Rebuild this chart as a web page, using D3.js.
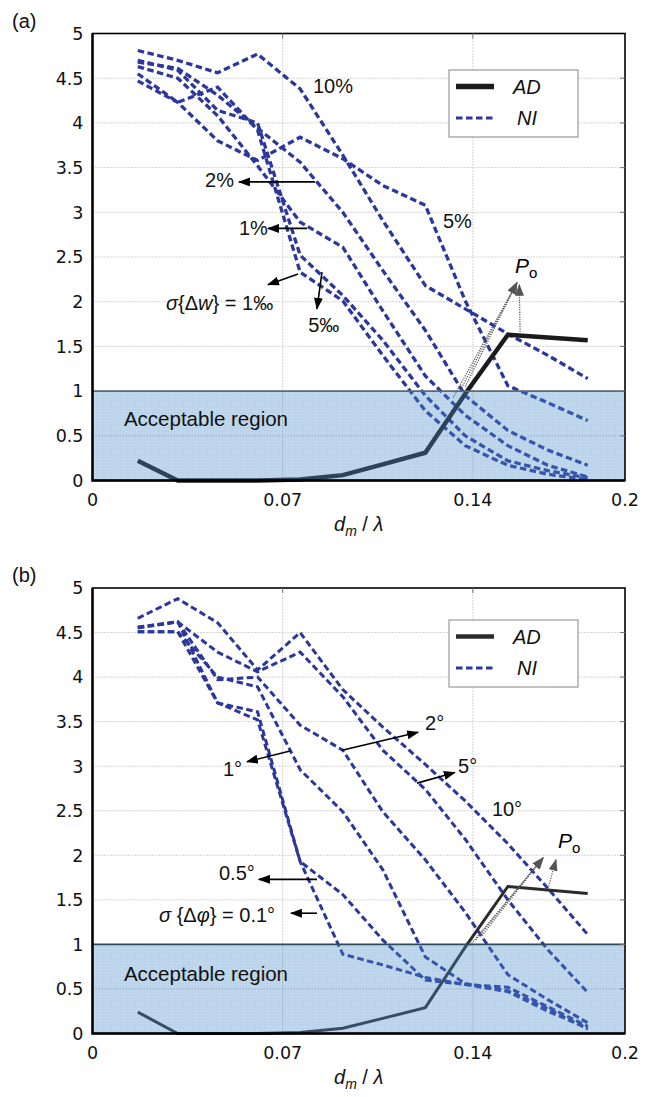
<!DOCTYPE html>
<html><head><meta charset="utf-8">
<script src="https://cdn.jsdelivr.net/npm/d3@7"></script>
<style>body{margin:0;background:#fff}svg{display:block}</style>
</head><body>
<svg id="c" width="650" height="1097"></svg>
<script>
// ---------- data ----------
const xGrid = [0.017,0.032,0.047,0.062,0.078,0.094,0.109,0.125,0.140,0.156,0.171,0.186];
const yTicks = [0,0.5,1,1.5,2,2.5,3,3.5,4,4.5,5];
const yTickLabels = ["0","0.5","1","1.5","2","2.5","3","3.5","4","4.5","5"];
const xTicks = [0, 1/14, 2/14, 0.2];
const xTickLabels = ["0","0.07","0.14","0.2"];

// panel (a): sigma{Δw}
const adA   = [0.22,0,0,0,0.01,0.06,0.18,0.31,0.97,1.63,1.60,1.57];
const niA10 = [4.81,4.70,4.56,4.77,4.38,3.64,2.91,2.18,1.92,1.64,1.40,1.14];
const niA5  = [4.47,4.23,3.80,3.58,3.84,3.60,3.30,3.08,2.01,1.06,0.87,0.67];
const niA2  = [4.68,4.61,4.31,3.94,3.56,3.00,2.35,1.68,0.95,0.56,0.34,0.17];
const niA1  = [4.63,4.50,4.08,3.52,2.89,2.61,1.90,1.17,0.73,0.39,0.17,0.04];
const niA05 = [4.70,4.59,4.14,4.00,2.52,2.07,1.57,0.95,0.50,0.22,0.11,0.03];
const niA01 = [4.55,4.23,4.40,3.92,2.33,2.01,1.40,0.78,0.39,0.17,0.07,0.01];

// panel (b): sigma{Δφ}
const adB    = [0.24,0,0,0,0.01,0.06,0.17,0.29,0.97,1.65,1.61,1.57];
const niB10  = [4.66,4.88,4.61,4.08,4.50,3.86,3.44,3.02,2.61,2.13,1.63,1.11];
const niB5   = [4.56,4.62,4.28,4.06,4.28,3.78,3.18,2.74,2.18,1.50,0.94,0.46];
const niB2   = [4.55,4.62,3.97,4.00,3.46,3.18,2.49,1.95,1.36,0.66,0.38,0.12];
const niB1   = [4.51,4.51,4.00,3.89,2.96,2.49,1.84,0.86,0.56,0.48,0.28,0.05];
const niB05  = [4.56,4.62,3.71,3.61,1.93,1.56,1.05,0.60,0.55,0.47,0.25,0.06];
const niB01  = [4.51,4.51,3.71,3.52,1.93,0.89,0.77,0.63,0.55,0.52,0.30,0.08];

const acceptLimit = 1;

// annotation labels (data coords)
const labelsA = [
  {t:"10%", x:0.0828, y:4.33},
  {t:"5%",  x:0.1316, y:2.82},
  {t:"2%",  x:0.0423, y:3.28},
  {t:"1%",  x:0.055,  y:2.75},
  {t:"5‰",  x:0.081,  y:1.66}
];
const arrowsA = [[0.0836,3.34,0.0550,3.34],[0.0806,2.82,0.0659,2.82],[0.0772,2.31,0.0659,2.19],[0.0862,2.33,0.0843,1.92]];
const labelsB = [
  {t:"1°",   x:0.049,  y:2.89},
  {t:"2°",   x:0.1249, y:3.41},
  {t:"5°",   x:0.1373, y:2.92},
  {t:"10°",  x:0.150,  y:2.44},
  {t:"0.5°", x:0.0475, y:1.72}
];
const arrowsB = [[0.0742,3.17,0.058,3.05],[0.0937,3.18,0.1223,3.38],[0.1219,2.81,0.1361,2.93],[0.0843,1.73,0.0625,1.73],[0.0843,1.35,0.0745,1.35]];

// ---------- drawing ----------
const svg = d3.select("#c");
const defs = svg.append("defs");
function marker(id, color){
  defs.append("marker").attr("id",id).attr("viewBox","0 0 12 9")
    .attr("refX",11).attr("refY",4.5).attr("markerWidth",12).attr("markerHeight",9)
    .attr("markerUnits","userSpaceOnUse").attr("orient","auto")
    .append("path").attr("d","M0,0 L12,4.5 L0,9 Z").attr("fill",color);
}
marker("ah","#000");
marker("ahg","#555");
const pat = defs.append("pattern").attr("id","tex").attr("patternUnits","userSpaceOnUse")
  .attr("width",3).attr("height",3);
pat.append("rect").attr("width",3).attr("height",3).attr("fill","#4a8ccb");
pat.append("rect").attr("width",1).attr("height",3).attr("fill","#3d7fbf");
pat.append("rect").attr("width",3).attr("height",0.6).attr("fill","#5a98d2");

const FONT = "'Liberation Sans', Arial, sans-serif";
const TFONT = "'DejaVu Sans', sans-serif";
const NI_COLOR = "#2b379c";

function panel(p){
  const x = d3.scaleLinear().domain([0,0.2]).range([92.5,625]);
  const y = d3.scaleLinear().domain([0,5]).range([p.bottom,p.top]);
  const g = svg.append("g");

  // grid
  g.selectAll(null).data(yTicks.slice(1,-1)).join("line")
    .attr("x1",x(0)).attr("x2",x(0.2)).attr("y1",d=>y(d)).attr("y2",d=>y(d))
    .attr("stroke","#a8a8a8").attr("stroke-width",1).attr("stroke-dasharray","1,2");
  g.selectAll(null).data(xTicks.slice(1,-1)).join("line")
    .attr("y1",y(0)).attr("y2",y(5)).attr("x1",d=>x(d)).attr("x2",d=>x(d))
    .attr("stroke","#a8a8a8").attr("stroke-width",1).attr("stroke-dasharray","1,2");

  const line = d3.line().x((d,i)=>x(xGrid[i])).y(d=>y(d));
  p.ni.forEach(s=>{
    g.append("path").attr("d",line(s)).attr("fill","none")
      .attr("stroke",NI_COLOR).attr("stroke-width",p.niW).attr("stroke-dasharray","6.5,3.5");
  });
  g.append("path").attr("d",line(p.ad)).attr("fill","none")
    .attr("stroke",p.adColor).attr("stroke-width",p.adW).attr("stroke-linejoin","miter");

  // P_o dotted arrows
  p.po.fan.forEach(o=>{
    g.append("line").attr("x1",x(o[0])).attr("y1",y(o[1])).attr("x2",x(p.po.h1[0])).attr("y2",y(p.po.h1[1]))
      .attr("stroke","#555").attr("stroke-width",1.2).attr("stroke-dasharray","1.2,1.2")
      .attr("marker-end","url(#ahg)");
  });
  g.append("line").attr("x1",x(p.po.o2[0])).attr("y1",y(p.po.o2[1])).attr("x2",x(p.po.h2[0])).attr("y2",y(p.po.h2[1]))
    .attr("stroke","#555").attr("stroke-width",1.2).attr("stroke-dasharray","1.2,1.2")
    .attr("marker-end","url(#ahg)");
  const pt = g.append("text").attr("x",x(p.po.t[0])).attr("y",y(p.po.t[1]))
    .attr("font-family",FONT).attr("font-size",21);
  pt.append("tspan").attr("font-style","italic").text("P");
  pt.append("tspan").attr("font-size",15).attr("dy",5).text("o");

  // acceptable region overlay
  g.append("rect").attr("x",x(0)).attr("y",y(acceptLimit)).attr("width",x(0.2)-x(0))
    .attr("height",y(0)-y(acceptLimit)).attr("fill","url(#tex)").attr("opacity",0.36);
  g.append("line").attr("x1",x(0)).attr("x2",x(0.2)).attr("y1",y(acceptLimit)).attr("y2",y(acceptLimit))
    .attr("stroke",p.regionLine).attr("stroke-width",1.6);
  g.append("text").attr("x",x(0.0118)).attr("y",y(p.regionTextY))
    .attr("font-family",FONT).attr("font-size",20.5).attr("fill","#111").text("Acceptable region");

  // frame
  g.append("rect").attr("x",x(0)).attr("y",y(5)).attr("width",x(0.2)-x(0)).attr("height",y(0)-y(5))
    .attr("fill","none").attr("stroke","#000").attr("stroke-width",1.6);
  g.append("path").attr("d",`M${x(0)},${y(5)}V${y(0)}H${x(0.2)}`).attr("fill","none")
    .attr("stroke","#000").attr("stroke-width",2.4);
  // inward ticks right and top
  g.selectAll(null).data(yTicks.slice(1,-1)).join("line")
    .attr("x1",x(0.2)-5).attr("x2",x(0.2)).attr("y1",d=>y(d)).attr("y2",d=>y(d))
    .attr("stroke","#777").attr("stroke-width",1);
  g.selectAll(null).data(xTicks.slice(1,-1)).join("line")
    .attr("y1",y(5)).attr("y2",y(5)+5).attr("x1",d=>x(d)).attr("x2",d=>x(d))
    .attr("stroke","#777").attr("stroke-width",1);

  // tick labels
  g.selectAll(null).data(yTicks).join("text")
    .attr("x",83.5).attr("y",d=>y(d)).attr("dy","0.36em").attr("text-anchor","end")
    .attr("font-family",TFONT).attr("font-size",17.5).attr("fill","#111")
    .text((d,i)=>yTickLabels[i]);
  g.selectAll(null).data(xTicks).join("text")
    .attr("x",d=>x(d)).attr("y",y(0)+25).attr("text-anchor","middle")
    .attr("font-family",TFONT).attr("font-size",17.5).attr("fill","#111")
    .text((d,i)=>xTickLabels[i]);

  // axis title
  const xt = g.append("text").attr("x",334).attr("y",y(0)+50)
    .attr("font-family",FONT).attr("font-size",20).attr("fill","#111");
  xt.append("tspan").attr("font-style","italic").text("d");
  xt.append("tspan").attr("font-style","italic").attr("font-size",14).attr("dy",5).text("m");
  xt.append("tspan").attr("dy",-5).text(" / ");
  xt.append("tspan").attr("font-style","italic").text("λ");

  // panel tag
  g.append("text").attr("x",12).attr("y",y(5)-6).attr("font-family",FONT).attr("font-size",20)
    .attr("fill","#111").text(p.tag);

  // annotations
  g.selectAll(null).data(p.labels).join("text")
    .attr("x",d=>x(d.x)).attr("y",d=>y(d.y)).attr("font-family",FONT).attr("font-size",20)
    .attr("fill","#111").text(d=>d.t);
  g.selectAll(null).data(p.arrows).join("line")
    .attr("x1",d=>x(d[0])).attr("y1",d=>y(d[1])).attr("x2",d=>x(d[2])).attr("y2",d=>y(d[3]))
    .attr("stroke","#000").attr("stroke-width",1.6).attr("marker-end","url(#ah)");
  const st = g.append("text").attr("x",x(p.sigma.x)).attr("y",y(p.sigma.y))
    .attr("font-family",FONT).attr("font-size",20).attr("fill","#111");
  p.sigma.parts.forEach(pp=>{
    const ts = st.append("tspan").text(pp[0]);
    if(pp[1]) ts.attr("font-style","italic");
  });

  // legend
  const lx = 449, ly = p.legendTop;
  g.append("rect").attr("x",lx).attr("y",ly).attr("width",129).attr("height",67)
    .attr("fill","#fff").attr("stroke","#999").attr("stroke-width",1.2);
  g.append("line").attr("x1",lx+7).attr("x2",lx+45).attr("y1",ly+16.5).attr("y2",ly+16.5)
    .attr("stroke",p.adColor).attr("stroke-width",p.legAdW);
  g.append("line").attr("x1",lx+7).attr("x2",lx+45).attr("y1",ly+48).attr("y2",ly+48)
    .attr("stroke",NI_COLOR).attr("stroke-width",3.2).attr("stroke-dasharray","6.5,3.5");
  g.append("text").attr("x",lx+64).attr("y",ly+23.5).attr("font-family",FONT).attr("font-size",20)
    .attr("font-style","italic").attr("fill","#111").text("AD");
  g.append("text").attr("x",lx+68).attr("y",ly+55).attr("font-family",FONT).attr("font-size",20)
    .attr("font-style","italic").attr("fill","#111").text("NI");
}

panel({
  tag:"(a)", top:33.5, bottom:480.5, legendTop:70,
  ni:[niA10,niA5,niA2,niA1,niA05,niA01], ad:adA,
  adColor:"#1b1b1b", adW:4.5, legAdW:5.5, niW:3.3,
  regionLine:"#5d6a72", regionTextY:0.61,
  labels:labelsA, arrows:arrowsA,
  sigma:{x:0.0276,y:1.91,parts:[["σ",1],["{Δ",0],["w",1],["} = 1‰",0]]},
  po:{fan:[[0.1355,0.93],[0.1378,0.99],[0.1400,1.05]], h1:[0.1594,2.21], o2:[0.1606,1.66], h2:[0.1603,2.19], t:[0.1587,2.32]}
});
panel({
  tag:"(b)", top:588, bottom:1033.5, legendTop:620,
  ni:[niB10,niB5,niB2,niB1,niB05,niB01], ad:adB,
  adColor:"#2b2b2b", adW:3, legAdW:4.5, niW:3,
  regionLine:"#2e4d5c", regionTextY:0.59,
  labels:labelsB, arrows:arrowsB,
  sigma:{x:0.025,y:1.25,parts:[["σ",1],[" {Δ",0],["φ",1],["} = 0.1°",0]]},
  po:{fan:[[0.1418,0.99],[0.1440,1.05],[0.1463,1.10]], h1:[0.1692,1.97], o2:[0.1711,1.63], h2:[0.1741,1.95], t:[0.1748,2.08]}
});
</script>
</body></html>
